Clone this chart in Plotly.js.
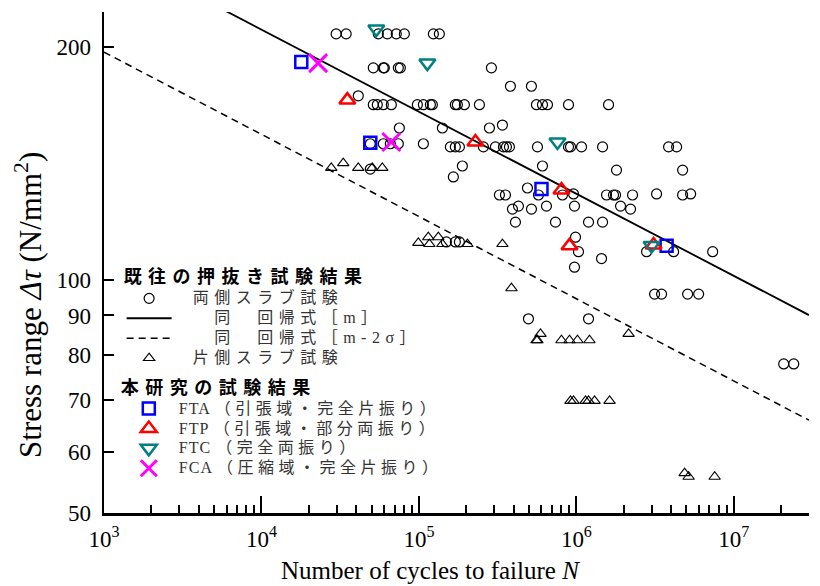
<!DOCTYPE html>
<html><head><meta charset="utf-8">
<script src="https://cdn.plot.ly/plotly-3.0.1.min.js"></script>
<style>body{margin:0;background:#fff}</style>
</head><body><div id="chart" style="width:820px;height:586px"></div>
<script>
// ---- data ----
// 既往の押抜き試験結果：両側スラブ試験
const bothN = [29800,34500,55200,63000,71800,80800,123500,134800,
  51300,59400,60300,74000,76200,288600,
  381000,518000,
  41200,
  51300,54400,59400,66800,97700,106700,118200,121700,170300,175400,194400,242100,557600,608900,655100,890900,1600000,
  75100,140900,280300,339000,
  49100,59400,65800,74000,106700,
  158300,170300,180700,256700,305900,344100,359500,375600,565900,890900,917500,1078000,1466000,3850000,4330000,
  188700,608900,1798000,4726000,
  165400,49100,
  324400,354300,574300,815800,1554000,1721000,1773000,2273000,4726000,
  958700,3230000,5314000,
  488800,
  428500,645500,972500,1907000,
  392500,518300,2207000,
  410100,736400,1194000,1466000,
  987000,
  149400,170300,180700,
  1031000,2790000,4143000,7333000,
  1444000,972500,
  3137000,3475000,5085000,5973000,
  496000,1194000,
  20730000,24000000];
const bothS = [208,208,208,208,208,208,208,208,
  188,188,188,188,188,188,
  178,178,
  173,
  168.5,168.5,168.5,168.5,168.5,168.5,168.5,168.5,168.5,168.5,168.5,168.5,168.5,168.5,168.5,168.5,168.5,
  157.2,157.2,157.2,158.6,
  150,150,150,150,150,
  148.6,148.6,148.6,148.6,148.6,148.6,148.6,148.6,148.6,148.6,148.6,148.6,148.6,148.6,148.6,
  140.4,140.4,138.7,138.7,
  135.9,139.1,
  128.8,128.8,128.8,128.8,128.8,128.8,128.8,128.8,128.8,
  129.2,129.2,129.2,
  131.5,
  124.6,124.6,124.6,124.6,
  123.5,123.5,123.5,
  118.8,118.8,118.8,118.8,
  113.6,
  112,112,112,
  108.8,108.8,108.8,108.8,
  106.6,103.9,
  95.9,95.9,95.9,95.9,
  89.1,89.1,
  77.9,77.9];
// 片側スラブ試験
const oneN = [27750,33070,41190,50550,58530,
  99130,114700,116500,132800,140900,203200,339000,
  386800,
  591400,557600,565900,803900,904100,1016000,1211000,2145000,
  917500,958700,1143000,1194000,1304000,1624000,
  4867000,5160000,7550000];
const oneS = [139.6,141.6,139.6,139.6,139.6,
  111.7,113.6,111.3,113.6,111.3,111.3,111.3,
  97.6,
  85.2,83.6,83.6,83.6,83.6,83.6,83.6,85.2,
  69.8,69.8,69.8,69.8,69.8,69.8,
  56.3,55.7,55.7];
// 回帰式
const regN = [1000, 30000000];
const regMeanS = [269, 90.1];
const regLowS = [197, 65.9];
// 本研究の試験結果
const ftaN = [17900, 49100, 600000, 3740000];
const ftaS = [191.3, 150.4, 131.1, 110.7];
const ftpN = [35100, 228400, 803900, 904100, 3092000];
const ftpS = [170.8, 150.8, 130.7, 110.7, 111.0];
const ftcN = [53600, 113100, 758300, 3002000];
const ftcS = [211.0, 190.7, 150.8, 110.8];
const fcaN = [22900, 66800];
const fcaS = [190.7, 150.8];
// ticks
const xTickVals = [1e3, 1e4, 1e5, 1e6, 1e7];
const xTickText = ['10<sup>3</sup>','10<sup>4</sup>','10<sup>5</sup>','10<sup>6</sup>','10<sup>7</sup>'];
const yTickVals = [50, 60, 70, 80, 90, 100, 200];
const yTickText = ['50','60','70','80','90','100','200'];

const xMinor = [];
for (let d = 3; d <= 7; d++) for (let k = 2; k <= 9; k++) { const v = k * Math.pow(10, d); if (v <= 3e7) xMinor.push(v); }

const SERIF = 'Liberation Serif, Times New Roman, serif';
const LEGF = 'Liberation Serif, Noto Sans CJK JP, serif';
const sp = (t, ls, fs) => '<span style="font-size:' + (fs || 16) + 'px;letter-spacing:' + ls + 'px">' + t + '</span>';
const lead = sp('　', 0);

const traces = [
  {x: regN, y: regMeanS, mode: 'lines', line: {color: '#000', width: 1.8},
   name: lead + sp('　同　回帰式［m］', 5.5), legend: 'legend', legendrank: 2},
  {x: regN, y: regLowS, mode: 'lines', line: {color: '#000', width: 1.5, dash: '7px,5px'},
   name: lead + sp('　同　回帰式［m-2σ］', 5.5), legend: 'legend', legendrank: 3},
  {x: bothN, y: bothS, mode: 'markers', marker: {symbol: 'circle-open', size: 10, color: '#000', line: {width: 1.2}},
   name: lead + sp('両側スラブ試験', 5.5), legend: 'legend', legendrank: 1},
  {x: oneN, y: oneS, mode: 'markers', marker: {symbol: 'triangle-up-open', size: 10, color: '#000', line: {width: 1.1}},
   name: lead + sp('片側スラブ試験', 5.5), legend: 'legend', legendrank: 4},
  {x: ftaN, y: ftaS, mode: 'markers', marker: {symbol: 'square-open', size: 12, color: '#0000ff', line: {width: 2.5}},
   name: sp('FTA ', 1) + sp('（引張域・完全片振り）', 4.5), legend: 'legend2'},
  {x: ftpN, y: ftpS, mode: 'markers', marker: {symbol: 'triangle-up-open', size: 14, color: '#ff0000', line: {width: 2.5}},
   name: sp('FTP ', 1) + sp('（引張域・部分両振り）', 4.5), legend: 'legend2'},
  {x: ftcN, y: ftcS, mode: 'markers', marker: {symbol: 'triangle-down-open', size: 14, color: '#008080', line: {width: 2.5}},
   name: sp('FTC ', 1) + sp('（完全両振り）', 4.5), legend: 'legend2'},
  {x: fcaN, y: fcaS, mode: 'markers', marker: {symbol: 'x-thin-open', size: 18, color: '#ff00ff', line: {width: 3}},
   name: sp('FCA ', 1) + sp('（圧縮域・完全片振り）', 4.5), legend: 'legend2'}
];

const legendCommon = {
  bgcolor: 'rgba(0,0,0,0)', borderwidth: 0, traceorder: 'normal',
  font: {family: LEGF, size: 13, color: '#333'},
  xanchor: 'left', yanchor: 'top', tracegroupgap: 0
};

const layout = {
  width: 820, height: 586,
  margin: {l: 104, r: 11, t: 12, b: 73},
  paper_bgcolor: '#fff', plot_bgcolor: '#fff',
  showlegend: true,
  xaxis: {
    type: 'log', range: [3, Math.log10(3e7)],
    showline: true, linewidth: 2.5, linecolor: '#000', mirror: false,
    showgrid: false, zeroline: false,
    ticks: 'inside', ticklen: 17, tickwidth: 2, tickcolor: '#000',
    tickmode: 'array', tickvals: xTickVals, ticktext: xTickText,
    tickfont: {family: SERIF, size: 23, color: '#000'},
    ticklabelstandoff: 4,
    minor: {tickmode: 'array', tickvals: xMinor, ticks: 'inside', ticklen: 8, tickwidth: 2, tickcolor: '#000', showgrid: false}
  },
  yaxis: {
    type: 'log', range: [Math.log10(50), Math.log10(222)],
    showline: true, linewidth: 2.5, linecolor: '#000', mirror: false,
    showgrid: false, zeroline: false,
    ticks: 'inside', ticklen: 10, tickwidth: 2, tickcolor: '#000',
    tickmode: 'array', tickvals: yTickVals, ticktext: yTickText,
    tickfont: {family: SERIF, size: 23, color: '#000'},
    ticklabelstandoff: 6
  },
  legend: Object.assign({}, legendCommon, {
    x: 0.025, y: 0.505, itemwidth: 45,
    title: {text: sp('既往の押抜き試験結果', 6.5, 18), font: {family: 'Noto Sans CJK JP', size: 18, color: '#000', weight: 'bold'}}
  }),
  legend2: Object.assign({}, legendCommon, {
    x: 0.021, y: 0.285, itemwidth: 50,
    title: {text: sp('本研究の試験結果', 6.5, 18), font: {family: 'Noto Sans CJK JP', size: 18, color: '#000', weight: 'bold'}}
  }),
  annotations: [
    {text: 'Stress range <i>Δτ</i> (N/mm<sup>2</sup>)', xref: 'paper', yref: 'paper',
     x: -0.108, y: 0.415, xanchor: 'center', yanchor: 'middle', textangle: -90, showarrow: false,
     font: {family: SERIF, size: 31, color: '#000'}},
    {text: 'Number of cycles to failure <i>N</i>', xref: 'paper', yref: 'paper',
     x: 0.463, y: -0.114, xanchor: 'center', yanchor: 'middle', showarrow: false,
     font: {family: SERIF, size: 25, color: '#000'}}
  ]
};

Plotly.newPlot('chart', traces, layout, {displayModeBar: false, staticPlot: true});
</script>
</body></html>
